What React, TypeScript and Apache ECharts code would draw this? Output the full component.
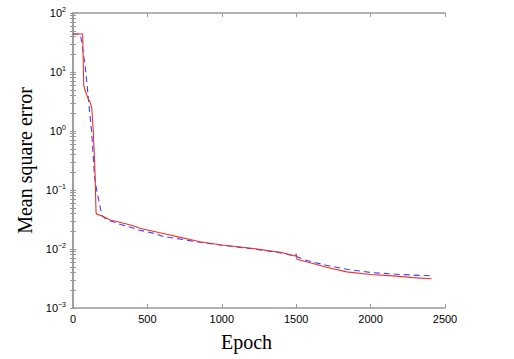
import React, { useEffect, useRef } from "react";
import * as echarts from "echarts";

const xTicks = [0, 500, 1000, 1500, 2000, 2500];
const yMajor = [0.001, 0.01, 0.1, 1, 10, 100];

const redEpochs = [0, 65, 72, 80, 100, 115, 126, 136, 148, 155, 160, 200, 250, 300, 400, 450, 500, 630, 700, 853, 1000, 1200, 1400, 1495, 1500, 1505, 1600, 1705, 1839, 2000, 2150, 2287, 2410];
const redMse = [44, 44, 6, 5.0, 3.6, 3.1, 2.45, 1.04, 0.195, 0.041, 0.039, 0.036, 0.031, 0.029, 0.025, 0.0224, 0.021, 0.0178, 0.0162, 0.0133, 0.0117, 0.0103, 0.0087, 0.0076, 0.0083, 0.0067, 0.0058, 0.0049, 0.0041, 0.0037, 0.0035, 0.00327, 0.00314];

const blueEpochs = [0, 50, 60, 70, 80, 96, 110, 126, 143, 159, 182, 193, 230, 290, 320, 400, 440, 480, 560, 600, 700, 853, 1000, 1200, 1400, 1500, 1550, 1700, 1850, 2000, 2200, 2410];
const blueMse = [44, 44, 30, 20, 14, 5.6, 2.3, 0.93, 0.19, 0.1, 0.052, 0.037, 0.031, 0.028, 0.026, 0.023, 0.021, 0.02, 0.018, 0.0165, 0.015, 0.013, 0.0116, 0.0101, 0.0086, 0.0075, 0.0066, 0.0053, 0.0045, 0.004, 0.0037, 0.0035];

const minorTicks: number[] = [];
for (let e = -3; e < 2; e++) {
  for (let m = 1; m <= 9; m++) minorTicks.push(Number((m * Math.pow(10, e)).toPrecision(3)));
}
minorTicks.push(100);

export default function App() {
  const ref = useRef<HTMLDivElement>(null);
  useEffect(() => {
    if (!ref.current) return;
    const chart = echarts.init(ref.current, null, { renderer: "svg" });
    const frame = { show: true, lineStyle: { color: "#999", width: 1.5 } };
    const sans = "Liberation Sans";
    chart.setOption({
      animation: false,
      backgroundColor: "#fff",
      grid: { left: 73, right: 69, top: 13, bottom: 51, containLabel: false },
      xAxis: [
        {
          type: "value",
          min: 0,
          max: 2500,
          interval: 500,
          name: "Epoch",
          nameLocation: "middle",
          nameGap: 24,
          nameTextStyle: { fontFamily: "Liberation Serif", fontSize: 20, color: "#000", padding: [0, 25, 0, 0] },
          axisLine: frame,
          axisTick: { show: true, inside: true, length: 4, customValues: xTicks, lineStyle: { color: "#999" } },
          axisLabel: { color: "#000", fontFamily: sans, fontSize: 11, margin: 5, customValues: xTicks, formatter: (v: number) => String(v) },
          splitLine: { show: false },
        },
        {
          type: "value",
          position: "top",
          min: 0,
          max: 2500,
          interval: 500,
          axisLine: frame,
          axisTick: { show: true, inside: true, length: 4, lineStyle: { color: "#999" } },
          axisLabel: { show: false },
          splitLine: { show: false },
        },
      ],
      yAxis: [
        {
          type: "log",
          logBase: 10,
          min: 0.001,
          max: 100,
          name: "Mean square error",
          nameLocation: "middle",
          nameGap: 34,
          nameTextStyle: { fontFamily: "Liberation Serif", fontSize: 20, color: "#000" },
          axisLine: frame,
          axisTick: { show: true, inside: true, length: 3, customValues: minorTicks, lineStyle: { color: "#999" } },
          axisLabel: {
            customValues: yMajor,
            margin: 7,
            formatter: (v: number) => {
              const e = Math.round(Math.log10(v));
              return `{b|10}{s|${e < 0 ? "\u2212" + -e : e}}`;
            },
            rich: {
              b: { fontFamily: sans, fontSize: 11, color: "#000" },
              s: { fontFamily: sans, fontSize: 7, color: "#000", padding: [0, 0, 8, 0] },
            },
          },
          splitLine: { show: false },
        },
        {
          type: "log",
          logBase: 10,
          min: 0.001,
          max: 100,
          position: "right",
          axisLine: frame,
          axisTick: { show: true, inside: true, length: 3, customValues: minorTicks, lineStyle: { color: "#999" } },
          axisLabel: { show: false },
          splitLine: { show: false },
        },
      ],
      series: [
        {
          type: "line",
          xAxisIndex: 0,
          yAxisIndex: 0,
          showSymbol: false,
          symbol: "none",
          data: blueEpochs.map((x, i) => [x, blueMse[i]]),
          lineStyle: { color: "#4040ff", width: 1.1, type: [6, 4] },
          z: 2,
        },
        {
          type: "line",
          xAxisIndex: 0,
          yAxisIndex: 0,
          showSymbol: false,
          symbol: "none",
          data: redEpochs.map((x, i) => [x, redMse[i]]),
          lineStyle: { color: "#f03030", width: 1.1 },
          z: 3,
        },
      ],
    });
    return () => chart.dispose();
  }, []);
  return <div ref={ref} style={{ width: 514, height: 359, position: "absolute", left: 0, top: 0 }} />;
}
